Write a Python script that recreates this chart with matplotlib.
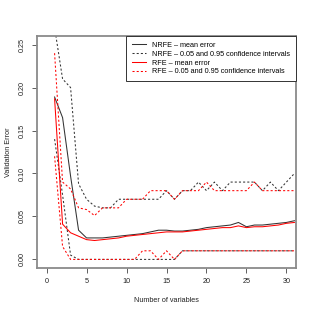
import matplotlib
matplotlib.use('Agg')
import matplotlib.pyplot as plt

plt.rcParams['font.family'] = ['Liberation Sans', 'DejaVu Sans']

# number of variables kept in the model
n_vars = list(range(1, 32))

# NRFE - mean validation error and 0.05 / 0.95 intervals
nrfe_mean = [0.189, 0.165, 0.097, 0.034, 0.025, 0.025, 0.025, 0.026, 0.027, 0.028,
             0.029, 0.030, 0.032, 0.034, 0.034, 0.033, 0.033, 0.034, 0.035, 0.037,
             0.038, 0.039, 0.040, 0.043, 0.038, 0.040, 0.040, 0.041, 0.042, 0.043, 0.045]
nrfe_low = [0.14, 0.075, 0.005, 0, 0, 0, 0, 0, 0, 0,
            0, 0, 0, 0, 0, 0, 0.01, 0.01, 0.01, 0.01,
            0.01, 0.01, 0.01, 0.01, 0.01, 0.01, 0.01, 0.01, 0.01, 0.01, 0.01]
nrfe_high = [0.27, 0.21, 0.20, 0.088, 0.07, 0.062, 0.06, 0.06, 0.07, 0.07,
             0.07, 0.07, 0.07, 0.07, 0.08, 0.07, 0.08, 0.08, 0.09, 0.08,
             0.09, 0.08, 0.09, 0.09, 0.09, 0.09, 0.08, 0.09, 0.08, 0.09, 0.10]

# RFE - mean validation error and 0.05 / 0.95 intervals
rfe_mean = [0.187, 0.041, 0.031, 0.027, 0.023, 0.022, 0.023, 0.024, 0.025, 0.027,
            0.028, 0.029, 0.030, 0.031, 0.032, 0.032, 0.032, 0.033, 0.034, 0.035,
            0.036, 0.037, 0.037, 0.039, 0.037, 0.038, 0.038, 0.039, 0.040, 0.042, 0.043]
rfe_low = [0.12, 0.015, 0, 0, 0, 0, 0, 0, 0, 0,
           0, 0.01, 0.01, 0, 0.01, 0, 0.01, 0.01, 0.01, 0.01,
           0.01, 0.01, 0.01, 0.01, 0.01, 0.01, 0.01, 0.01, 0.01, 0.01, 0.01]
rfe_high = [0.24, 0.09, 0.082, 0.06, 0.058, 0.051, 0.06, 0.06, 0.06, 0.07,
            0.07, 0.07, 0.08, 0.08, 0.08, 0.07, 0.08, 0.08, 0.08, 0.09,
            0.08, 0.08, 0.08, 0.08, 0.08, 0.09, 0.08, 0.08, 0.08, 0.08, 0.08]

legend_labels = ['NRFE \u2013 mean error',
                 'NRFE \u2013 0.05 and 0.95 confidence intervals',
                 'RFE \u2013 mean error',
                 'RFE \u2013 0.05 and 0.95 confidence intervals']

fig = plt.figure(figsize=(3.15, 3.15), dpi=100)
ax = fig.add_axes([37 / 315, 1 - 268 / 315, 259 / 315, 232 / 315])

black = '#333333'
red = '#ff0000'
lw = 0.75
dash = (0, (2, 2))
fs = 5.2

h1, = ax.plot(n_vars, nrfe_mean, color=black, lw=lw)
h2, = ax.plot(n_vars, nrfe_low, color=black, lw=lw, ls=dash)
ax.plot(n_vars, nrfe_high, color=black, lw=lw, ls=dash)
h3, = ax.plot(n_vars, rfe_mean, color=red, lw=lw)
h4, = ax.plot(n_vars, rfe_low, color=red, lw=lw, ls=dash)
ax.plot(n_vars, rfe_high, color=red, lw=lw, ls=dash)

ax.set_xlim(-1.2, 31.2)
ax.set_ylim(-0.01, 0.26)
ax.set_xticks([0, 5, 10, 15, 20, 25, 30])
ax.set_yticks([0.00, 0.05, 0.10, 0.15, 0.20, 0.25])
ax.set_yticklabels(['0.00', '0.05', '0.10', '0.15', '0.20', '0.25'])

for s in ax.spines.values():
    s.set_color('#8a8a8a')
    s.set_linewidth(1.3)

ax.tick_params(axis='both', direction='out', length=3.6, width=0.6,
               color='#444444', labelsize=fs, labelcolor='#222222', pad=3.5)
ax.tick_params(axis='y', labelrotation=90, pad=4.5)
for t in ax.get_yticklabels():
    t.set_va('center')

ax.set_xlabel('Number of variables', fontsize=fs, color='#222222')
ax.set_ylabel('Validation Error', fontsize=fs, color='#222222')
ax.xaxis.set_label_coords(0.5, -0.127)
ax.yaxis.set_label_coords(-0.098, 0.5)

leg = ax.legend([h1, h2, h3, h4], legend_labels,
                loc='upper right', bbox_to_anchor=(1, 1), borderaxespad=0,
                fontsize=fs, fancybox=False, framealpha=1, edgecolor='#333333',
                handlelength=1.9, handletextpad=0.9, labelspacing=0.25,
                borderpad=0.8)
leg.get_frame().set_linewidth(0.7)

fig.savefig('out.png', dpi=100)
